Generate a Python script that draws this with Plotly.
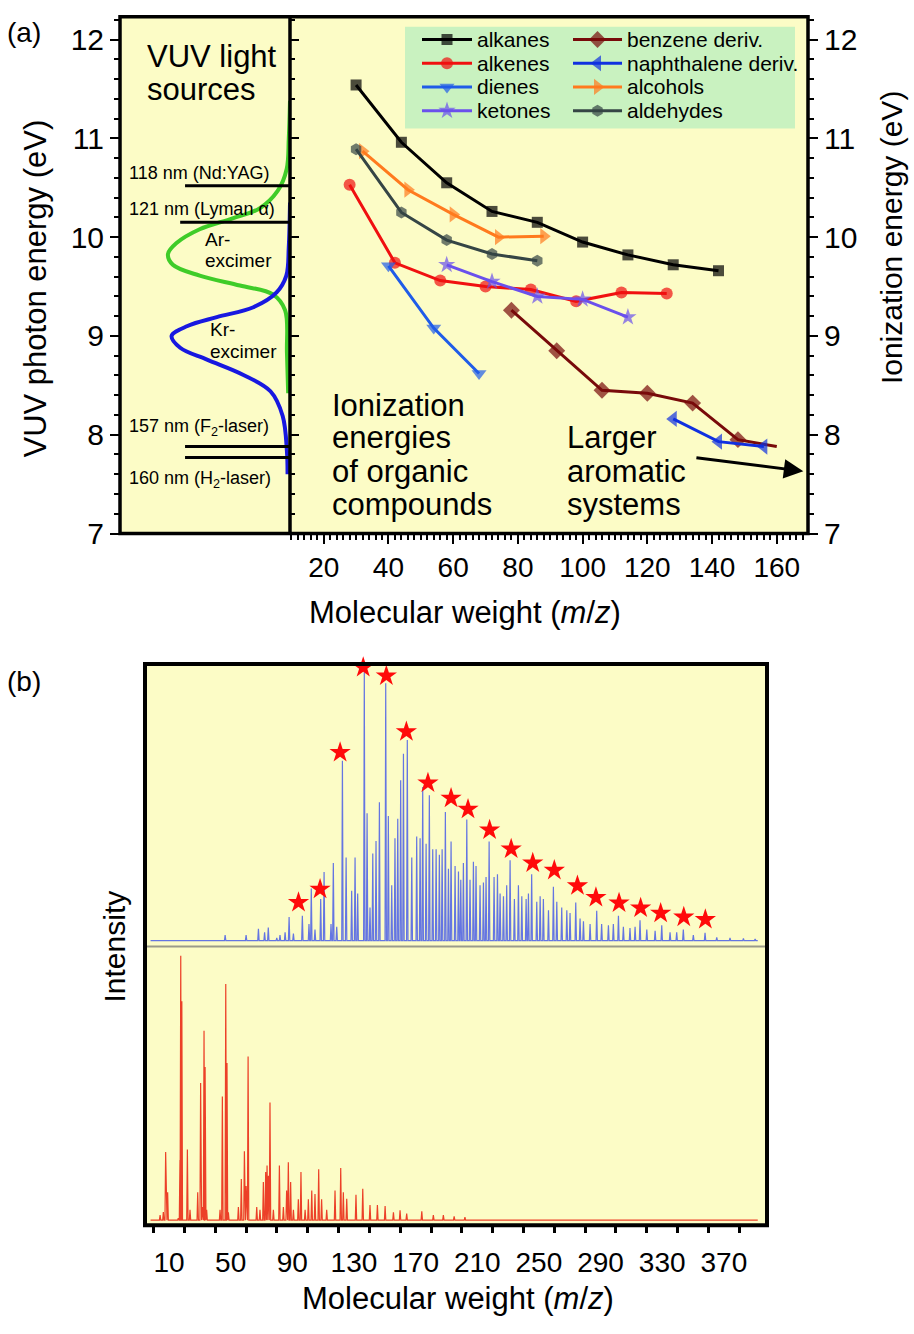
import plotly.graph_objects as go

W, H = 914, 1334


def fx(px):
    return px / W


def fy(py):
    return 1 - py / H


# right-panel data axis helpers (pixel -> data), used only for legend keys
def dx(px):
    return 9.58 + (px - 290) / 3.236


def dy(py):
    return 7 + (540 - py) / 100.0


# ---------------- DATA ----------------
# (a) ionization energies (eV) vs molecular weight
alkanes_x = [30, 44, 58, 72, 86, 100, 114, 128, 142]
alkanes_y = [11.54, 10.96, 10.55, 10.26, 10.15, 9.95, 9.82, 9.72, 9.66]
alkenes_x = [28, 42, 56, 70, 84, 98, 112, 126]
alkenes_y = [10.53, 9.74, 9.56, 9.50, 9.47, 9.35, 9.44, 9.43]
dienes_x = [40, 54, 68]
dienes_y = [9.71, 9.08, 8.62]
ketones_x = [58, 72, 86, 100, 114]
ketones_y = [9.72, 9.55, 9.40, 9.37, 9.19]
benzene_x = [78, 92, 106, 120, 134, 148, 160]
benzene_y = [9.26, 8.85, 8.45, 8.42, 8.32, 7.95, 7.88]
naph_x = [128, 142, 156]
naph_y = [8.16, 7.93, 7.88]
alcohols_x = [32, 46, 60, 74, 88]
alcohols_y = [10.87, 10.48, 10.23, 10.00, 10.01]
aldehydes_x = [30, 44, 58, 72, 86]
aldehydes_y = [10.89, 10.25, 9.97, 9.83, 9.76]

# (a) VUV light sources: excimer emission profiles (relative intensity vs eV)
ar_E = [11.38, 11.0, 10.69, 10.47, 10.29, 10.19, 10.08, 9.94, 9.83, 9.72, 9.61, 9.51, 9.42, 9.26, 8.83, 8.42]
ar_I = [0.0, 0.01, 0.027, 0.10, 0.25, 0.47, 0.74, 0.93, 1.0, 0.96, 0.74, 0.41, 0.14, 0.04, 0.025, 0.015]
kr_E = [10.35, 9.9, 9.61, 9.44, 9.29, 9.19, 9.10, 9.0, 8.88, 8.76, 8.61, 8.44, 8.19, 7.83, 7.6]
kr_I = [0.0, 0.01, 0.03, 0.11, 0.30, 0.60, 0.84, 0.97, 0.90, 0.68, 0.39, 0.16, 0.06, 0.025, 0.02]
laser_names = ["118 nm (Nd:YAG)", "121 nm (Lyman α)", "157 nm (F<sub>2</sub>-laser)", "160 nm (H<sub>2</sub>-laser)"]
laser_E = [10.52, 10.15, 7.88, 7.77]
laser_len = [0.86, 0.90, 0.86, 0.86]

# (b) upper spectrum (blue), m/z and relative intensity
blue_mz = [46.4, 60, 68, 72, 74.4, 79.9, 82, 85.3, 87.9, 90.7, 96.5, 100.8, 102.3, 104.7, 108.4,
           110.6, 115.1, 116.6, 118.8, 122.5, 124.9, 128.5, 130.7, 132.4, 136.7, 138.5, 140.4,
           142.2, 144.3, 146.5, 150.6, 152.3, 154.5, 156.6, 158.4, 160.3, 162.1, 164.6, 167.5,
           170.7, 172.9, 174.6, 176.8, 178.9, 181.1, 183.3, 185.4, 187.2, 189.3, 191.3, 193.0,
           195.6, 197.8, 199.3, 201.0, 203.2, 205.3, 207.5, 209.2, 211.8, 214.0, 215.7, 217.7,
           220.9, 223.1, 224.8, 227.0, 229.1, 231.3, 234.1, 236.7, 238.9, 241.7, 243.2, 245.3,
           248.6, 250.8, 252.9, 256.2, 259.4, 261.6, 264.8, 268.1, 270.2, 273.9, 276.7, 278.9,
           283.2, 287.5, 290.7, 295.1, 298.3, 301.6, 304.8, 309.1, 312.4, 315.6, 320.0, 325.4,
           329.7, 335.1, 339.4, 343.7, 350.2, 357.8, 365.4, 374.0, 382.7, 390.3]
blue_int = [2, 2, 4.3, 3, 4.7, 1, 2, 3, 8.5, 2.5, 9, 6, 18.8, 4, 15,
            24.8, 6, 28, 5, 65, 30, 18, 30, 17, 97, 46, 12,
            31.5, 36, 50, 93, 45, 20, 37, 44, 58, 67.5, 72.5, 30,
            37.6, 37, 55.5, 35, 52.5, 33, 33, 31, 33, 46.5, 26, 35.8,
            27, 25, 22, 28, 43.8, 22, 28.5, 27, 20, 21, 23, 35.8,
            23, 24, 17, 16, 20, 29, 15, 20, 16, 15, 17, 24,
            14, 16, 15, 11, 19.5, 14, 12, 11, 10, 13.8, 8, 7,
            6, 10.8, 6, 5.5, 6, 9, 5, 4.5, 5, 7.3, 4, 3.5,
            5.5, 3, 3, 4, 2, 2.8, 1.2, 1, 0.8, 0.6]
# starred homologous series
star_mz = [94, 108, 121, 136, 151, 164, 178, 193, 204, 218, 232, 246, 260, 275, 287, 302, 316, 329, 344, 358]
star_int = [13.8, 18.6, 68.0, 98.7, 95.7, 75.5, 57.0, 51.5, 47.5, 40.0, 33.1, 28.1, 25.4, 19.8, 15.6,
            13.6, 11.8, 9.9, 8.5, 7.6]

# (b) lower spectrum (red)
red_mz = [4.2, 6.3, 7.8, 9.1, 16.0, 17.1, 17.6, 18.3, 21.9, 23.6, 28.6, 30.5, 31.6, 32.7, 33.4, 34.4,
          43.1, 44.6, 46.8, 47.6, 48.5, 55.0, 56.9, 58.9, 60.0, 61.3, 66.9, 69.0, 71.2, 72.7, 73.6,
          74.5, 75.5, 77.7, 81.6, 84.2, 86.3, 87.4, 88.9, 90.7, 93.9, 95.6, 98.3, 100.4, 102.6,
          104.7, 107.1, 109.0, 112.3, 117.7, 121.4, 123.1, 125.3, 131.3, 135.7, 140.4, 145.2,
          150.2, 155.6, 159.9, 164.2, 174.0, 181.5, 188.0, 195.0, 202.0]
red_int = [1.9, 3.1, 26, 10.7, 0.8, 23, 101, 83.6, 27, 4, 10.7, 52.4, 5, 72.3, 58.5, 4,
           4, 47.2, 90.2, 60, 3, 5, 15.7, 26.3, 13, 62.5, 5, 4, 14.6, 18.4, 20.9,
           17, 44.9, 4, 20.9, 5, 11.3, 22.1, 14.6, 4, 8, 18.4, 4, 8, 11.3,
           10, 19.4, 8, 4, 11.3, 19.9, 10.7, 8.2, 9.7, 12, 5.8, 5.8,
           5.4, 3, 3.8, 2.5, 3.4, 1.9, 1.9, 1.5, 1.2]

b_tickvals = [10, 50, 90, 130, 170, 210, 250, 290, 330, 370]

# ---------------- STYLE ----------------
FONT = "Liberation Sans, Arial, sans-serif"
BG = "#fcfcc6"

fig = go.Figure()

series = [
    ("alkanes", alkanes_x, alkanes_y, "#000000", "square", 11),
    ("alkenes", alkenes_x, alkenes_y, "#f01010", "circle", 12),
    ("dienes", dienes_x, dienes_y, "#1f5ce8", "triangle-down", 13),
    ("ketones", ketones_x, ketones_y, "#6a50ec", "star", 13),
    ("benzene deriv.", benzene_x, benzene_y, "#780a0a", "diamond", 13),
    ("naphthalene deriv.", naph_x, naph_y, "#1030e0", "triangle-left", 14),
    ("alcohols", alcohols_x, alcohols_y, "#ff7a1e", "triangle-right", 14),
    ("aldehydes", aldehydes_x, aldehydes_y, "#354545", "hexagon", 12),
]

for name, xs, ys, col, sym, size in series:
    sizes = [size] * len(xs)
    if name == "benzene deriv.":
        sizes[-1] = 0
    fig.add_trace(go.Scatter(x=xs, y=ys, mode="lines+markers", name=name,
                             line=dict(color=col, width=3),
                             marker=dict(symbol=sym, size=sizes, color=col, line=dict(width=0)),
                             xaxis="x", yaxis="y3", showlegend=False, cliponaxis=False))

# manual two-column legend
leg_rows = [40, 64, 88, 112]
leg_cols = [(422, 472, 475), (573, 622, 625)]
annotations = []
for i, (name, xs, ys, col, sym, size) in enumerate(series):
    c, r = divmod(i, 4)
    x1, x2, xt = leg_cols[c]
    py = leg_rows[r]
    fig.add_trace(go.Scatter(x=[dx(x1), dx((x1 + x2) / 2), dx(x2)], y=[dy(py)] * 3,
                             mode="lines+markers", line=dict(color=col, width=3),
                             marker=dict(symbol=sym, size=[0, size, 0], color=col, line=dict(width=0)),
                             xaxis="x", yaxis="y", showlegend=False, hoverinfo="skip"))
    annotations.append(dict(text=name, x=fx(xt), y=fy(py), xref="paper", yref="paper",
                            xanchor="left", yanchor="middle", showarrow=False,
                            font=dict(size=21)))

# excimer profiles
fig.add_trace(go.Scatter(x=ar_I, y=ar_E, mode="lines", line=dict(color="#3fcc28", width=4, shape="spline"),
                         xaxis="x2", yaxis="y2", showlegend=False))
fig.add_trace(go.Scatter(x=kr_I, y=kr_E, mode="lines", line=dict(color="#1818e0", width=4, shape="spline"),
                         xaxis="x2", yaxis="y2", showlegend=False))
for E, L in zip(laser_E, laser_len):
    fig.add_trace(go.Scatter(x=[-0.02, L], y=[E, E], mode="lines", line=dict(color="black", width=3),
                             xaxis="x2", yaxis="y2", showlegend=False, cliponaxis=False))


# spectra as stick lines
def sticks(mz, h, start, end, w=0.45):
    xs, ys = [start], [0]
    for m, v in sorted(zip(mz, h)):
        xs += [m - w, m, m + w]
        ys += [0, v, 0]
    xs.append(end)
    ys.append(0)
    return xs, ys


bx, by = sticks(blue_mz, blue_int, -2, 392)
fig.add_trace(go.Scatter(x=bx, y=by, mode="lines", line=dict(color="#6475e2", width=1.2),
                         xaxis="x4", yaxis="y4", showlegend=False))
fig.add_trace(go.Scatter(x=star_mz, y=star_int, mode="markers",
                         marker=dict(symbol="star", size=16, color="#ff0a0a", line=dict(width=0)),
                         xaxis="x4", yaxis="y4", showlegend=False, cliponaxis=False))
rx, ry = sticks(red_mz, red_int, -2, 392)
fig.add_trace(go.Scatter(x=rx, y=ry, mode="lines", line=dict(color="#ec4028", width=1.2),
                         xaxis="x4", yaxis="y5", showlegend=False))


# ---------------- TEXT ----------------
def ann(text, x, y, size, xanchor="left", angle=0):
    annotations.append(dict(text=text, x=fx(x), y=fy(y), xref="paper", yref="paper",
                            xanchor=xanchor, yanchor="middle", showarrow=False,
                            textangle=angle, font=dict(size=size)))


ann("(a)", 5, 33, 28)
ann("(b)", 5, 690, 28)
ann("VUV photon energy (eV)", 35, 292, 31, "center", -90)
ann("Ionization energy (eV)", 891, 240, 30, "center", -90)
ann("Molecular weight (<i>m</i>/<i>z</i>)", 465, 620, 31, "center")
ann("Intensity", 115, 958, 30, "center", -90)
ann("Molecular weight (<i>m</i>/<i>z</i>)", 458, 1314, 31, "center")
ann("VUV light", 145, 57, 31)
ann("sources", 145, 91, 31)
for name, yy in zip(laser_names, [175, 212, 433, 485]):
    ann(name, 127, yy, 18)
ann("Ar-", 203, 242, 19)
ann("excimer", 203, 264, 19)
ann("Kr-", 208, 333, 19)
ann("excimer", 208, 356, 19)
for t, yy in zip(["Ionization", "energies", "of organic", "compounds"], [410, 443, 477, 511]):
    ann(t, 330, yy, 31)
for t, yy in zip(["Larger", "aromatic", "systems"], [443, 477, 511]):
    ann(t, 565, yy, 31)

# arrow towards larger aromatic systems
annotations.append(dict(x=168.2, y=7.63, ax=134.7, ay=7.77, xref="x", yref="y", axref="x", ayref="y",
                        showarrow=True, arrowhead=2, arrowsize=1.3, arrowwidth=3, arrowcolor="black",
                        text=""))

# ---------------- SHAPES ----------------
shapes = [
    dict(type="rect", xref="x", yref="y", x0=dx(405), x1=dx(795), y0=dy(130), y1=dy(27),
         fillcolor="#c9f2c0", line=dict(width=0), layer="below"),
    dict(type="rect", xref="paper", yref="paper", x0=fx(120), x1=fx(808), y0=fy(540), y1=fy(17),
         line=dict(color="black", width=3.5), layer="above"),
    dict(type="line", xref="paper", yref="paper", x0=fx(290), x1=fx(290), y0=fy(540), y1=fy(17),
         line=dict(color="black", width=3.5), layer="above"),
    dict(type="line", xref="paper", yref="paper", x0=fx(147), x1=fx(765), y0=fy(958), y1=fy(958),
         line=dict(color="#9a9a8a", width=2), layer="above"),
    dict(type="rect", xref="paper", yref="paper", x0=fx(145), x1=fx(767), y0=fy(1240), y1=fy(672),
         line=dict(color="black", width=4), layer="above"),
]

YR = [7, 12.23]
common = dict(showgrid=False, zeroline=False, showline=False, tickcolor="black")

fig.update_layout(
    width=W, height=H, margin=dict(l=0, r=0, t=0, b=0),
    paper_bgcolor="white", plot_bgcolor=BG,
    font=dict(family=FONT, color="black"),
    showlegend=False,
    xaxis=dict(domain=[fx(290), fx(808)], range=[9.58, 169.65], anchor="y",
               tickmode="linear", tick0=0, dtick=20, ticks="outside", ticklen=9, tickwidth=2,
               tickfont=dict(size=28),
               minor=dict(tickmode="linear", tick0=0, dtick=2, ticks="outside", ticklen=5,
                          tickwidth=1.5, tickcolor="black"), **common),
    yaxis=dict(domain=[fy(540), fy(17)], range=YR, anchor="x", side="left",
               tickmode="linear", tick0=7, dtick=1, ticks="inside", ticklen=9, tickwidth=2,
               showticklabels=False,
               minor=dict(tickmode="linear", tick0=7, dtick=0.2, ticks="inside", ticklen=5,
                          tickwidth=1.5, tickcolor="black"), **common),
    yaxis3=dict(overlaying="y", side="right", anchor="x", range=YR,
                tickmode="linear", tick0=7, dtick=1, ticks="outside", ticklen=9, tickwidth=2,
                tickfont=dict(size=30),
                minor=dict(tickmode="linear", tick0=7, dtick=0.2, ticks="outside", ticklen=5,
                           tickwidth=1.5, tickcolor="black"), **common),
    xaxis2=dict(domain=[fx(120), fx(290)], range=[1.393, 0], anchor="y2", visible=False),
    yaxis2=dict(domain=[fy(540), fy(17)], range=YR, anchor="x2", side="left",
                tickmode="linear", tick0=7, dtick=1, ticks="outside", ticklen=9, tickwidth=2,
                tickfont=dict(size=30),
                minor=dict(tickmode="linear", tick0=7, dtick=0.2, ticks="outside", ticklen=5,
                           tickwidth=1.5, tickcolor="black"), **common),
    xaxis4=dict(domain=[fx(145), fx(767)], range=[-5.6, 398], anchor="y5",
                tickmode="array", tickvals=b_tickvals, ticks="outside", ticklen=12,
                tickcolor="rgba(0,0,0,0)", tickfont=dict(size=28),
                showgrid=False, zeroline=False, showline=False,
                minor=dict(tickmode="linear", tick0=0, dtick=20, ticks="outside", ticklen=7,
                           tickwidth=2.5, tickcolor="black")),
    yaxis4=dict(domain=[fy(958), fy(672)], range=[-2.14, 100], anchor="x4", visible=False),
    yaxis5=dict(domain=[fy(1240), fy(958)], range=[-1.89, 104.5], anchor="x4", visible=False),
    annotations=annotations,
    shapes=shapes,
)

# remove the page's default body margin so the figure sits at the window origin
fig.write_html("out.html", config={"displayModeBar": False},
               post_script="document.body.style.margin='0px';document.body.style.overflow='hidden';")
